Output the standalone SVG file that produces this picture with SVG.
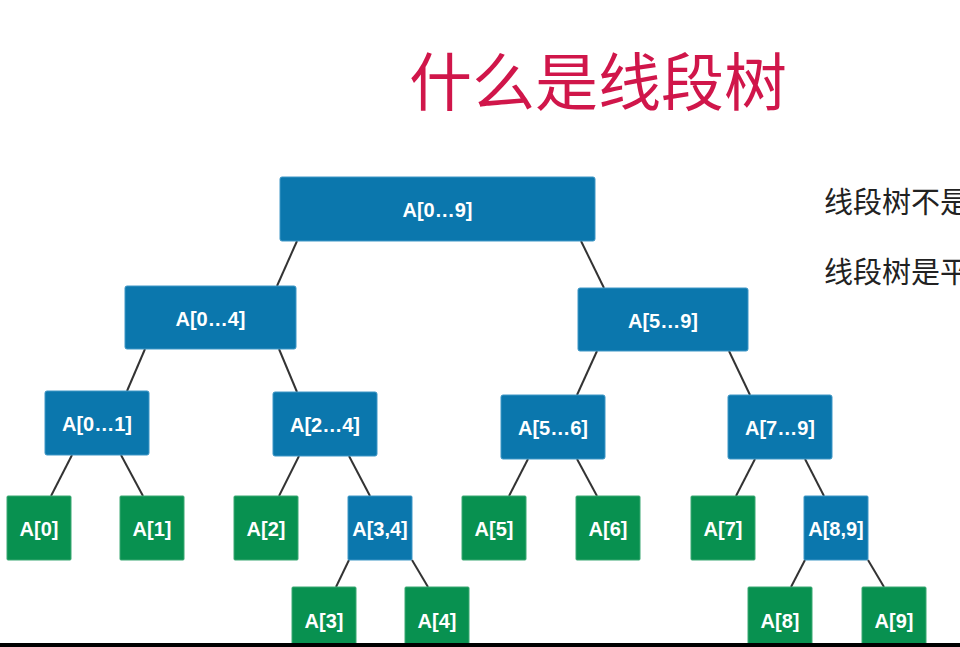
<svg xmlns="http://www.w3.org/2000/svg" width="960" height="647" viewBox="0 0 960 647">
<style>
.b{fill:#0b77ad;stroke:#3f97c6;stroke-width:1}
.g{fill:#089150;stroke:#3aa872;stroke-width:1}
.t{font-family:"Liberation Sans",Arial,sans-serif;font-weight:bold;font-size:20px;fill:#ffffff;text-anchor:middle}
.c line{stroke:#333333;stroke-width:2}
.title{font-family:"Noto Sans CJK SC","Noto Sans",sans-serif;font-size:63px;fill:#d0164a}
.side{font-family:"Noto Sans CJK SC","Noto Sans",sans-serif;font-size:29px;fill:#222222}
</style>
<rect width="960" height="647" fill="#ffffff"/>
<text class="title" x="409" y="105">什么是线段树</text>
<text class="side" x="824" y="213">线段树不是</text>
<text class="side" x="824" y="283">线段树是平</text>
<g class="c" id="connectors">
<line x1="297" y1="241" x2="277" y2="286"/>
<line x1="581" y1="241" x2="604" y2="288"/>
<line x1="145" y1="349" x2="127" y2="391"/>
<line x1="279" y1="349" x2="297" y2="392"/>
<line x1="597" y1="351" x2="577" y2="395"/>
<line x1="729" y1="351" x2="750" y2="395"/>
<line x1="72" y1="455" x2="51" y2="496"/>
<line x1="121" y1="455" x2="143" y2="496"/>
<line x1="299" y1="456" x2="279" y2="496"/>
<line x1="349" y1="456" x2="370" y2="496"/>
<line x1="528" y1="459" x2="509" y2="496"/>
<line x1="577" y1="459" x2="597" y2="496"/>
<line x1="755" y1="459" x2="736" y2="496"/>
<line x1="805" y1="459" x2="824" y2="496"/>
<line x1="349" y1="560" x2="336" y2="587"/>
<line x1="412" y1="560" x2="428" y2="587"/>
<line x1="805" y1="560" x2="791" y2="587"/>
<line x1="868" y1="560" x2="884" y2="587"/>
</g>
<g id="root"><rect class="b" x="280" y="177" width="315" height="64" rx="2"/><text class="t" x="437.5" y="217">A[0…9]</text></g>
<g id="n0_4"><rect class="b" x="125" y="286" width="171" height="63" rx="2"/><text class="t" x="210.5" y="325.5">A[0…4]</text></g>
<g id="n5_9"><rect class="b" x="578" y="288" width="170" height="63" rx="2"/><text class="t" x="663" y="327.5">A[5…9]</text></g>
<g id="n0_1"><rect class="b" x="45" y="391" width="104" height="64" rx="2"/><text class="t" x="97" y="431">A[0…1]</text></g>
<g id="n2_4"><rect class="b" x="273" y="392" width="104" height="64" rx="2"/><text class="t" x="325" y="432">A[2…4]</text></g>
<g id="n5_6"><rect class="b" x="501" y="395" width="104" height="64" rx="2"/><text class="t" x="553" y="435">A[5…6]</text></g>
<g id="n7_9"><rect class="b" x="728" y="395" width="104" height="64" rx="2"/><text class="t" x="780" y="435">A[7…9]</text></g>
<g id="a0"><rect class="g" x="7" y="496" width="64" height="64" rx="1"/><text class="t" x="39" y="536">A[0]</text></g>
<g id="a1"><rect class="g" x="120" y="496" width="64" height="64" rx="1"/><text class="t" x="152" y="536">A[1]</text></g>
<g id="a2"><rect class="g" x="234" y="496" width="64" height="64" rx="1"/><text class="t" x="266" y="536">A[2]</text></g>
<g id="n3_4"><rect class="b" x="348" y="496" width="64" height="64" rx="1"/><text class="t" x="380" y="536">A[3,4]</text></g>
<g id="a5"><rect class="g" x="462" y="496" width="64" height="64" rx="1"/><text class="t" x="494" y="536">A[5]</text></g>
<g id="a6"><rect class="g" x="576" y="496" width="64" height="64" rx="1"/><text class="t" x="608" y="536">A[6]</text></g>
<g id="a7"><rect class="g" x="691" y="496" width="64" height="64" rx="1"/><text class="t" x="723" y="536">A[7]</text></g>
<g id="n8_9"><rect class="b" x="804" y="496" width="64" height="64" rx="1"/><text class="t" x="836" y="536">A[8,9]</text></g>
<g id="a3"><rect class="g" x="292" y="587" width="64" height="64" rx="1"/><text class="t" x="324" y="628">A[3]</text></g>
<g id="a4"><rect class="g" x="405" y="587" width="64" height="64" rx="1"/><text class="t" x="437" y="628">A[4]</text></g>
<g id="a8"><rect class="g" x="748" y="587" width="64" height="64" rx="1"/><text class="t" x="780" y="628">A[8]</text></g>
<g id="a9"><rect class="g" x="862" y="587" width="64" height="64" rx="1"/><text class="t" x="894" y="628">A[9]</text></g>
<rect x="0" y="643" width="960" height="4" fill="#000000"/>
</svg>
